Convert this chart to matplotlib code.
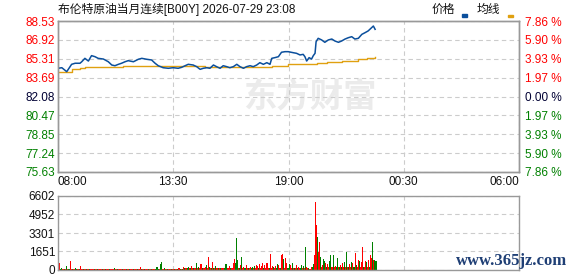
import matplotlib.pyplot as plt
from matplotlib.patches import Rectangle

plt.rcParams['font.family'] = ['Liberation Sans', 'Noto Sans CJK SC', 'DejaVu Sans']

title = "布伦特原油当月连续[B00Y] 2026-07-29 23:08"
x_ticks = ["08:00", "13:30", "19:00", "00:30", "06:00"]
price_ticks = [88.53, 86.92, 85.31, 83.69, 82.08, 80.47, 78.85, 77.24, 75.63]
pct_ticks = ["7.86", "5.90", "3.93", "1.97", "0.00", "1.97", "3.93", "5.90", "7.86"]
vol_ticks = [6602, 4952, 3301, 1651, 0]

price_times = ["08:00", "08:11", "08:25", "08:39", "08:49", "09:03", "09:08", "09:17", "09:27", "09:36",
               "09:46", "09:55", "10:10", "10:24", "10:34", "10:43", "10:53", "11:02", "11:12", "11:21",
               "11:36", "11:50", "12:00", "12:14", "12:28", "12:38", "12:47", "13:01", "13:16", "13:30",
               "13:44", "13:54", "14:04", "14:13", "14:27", "14:37", "14:47", "14:56", "15:06", "15:15",
               "15:25", "15:34", "15:44", "15:53", "16:03", "16:12", "16:22", "16:32", "16:41", "16:51",
               "17:00", "17:10", "17:19", "17:29", "17:38", "17:48", "17:58", "18:07", "18:12", "18:21",
               "18:31", "18:40", "18:50", "18:59", "19:14", "19:23", "19:33", "19:42", "19:47", "19:52",
               "19:59", "20:06", "20:11", "20:16", "20:19", "20:25", "20:35", "20:44", "20:54", "21:04",
               "21:13", "21:23", "21:32", "21:42", "21:51", "22:01", "22:10", "22:20", "22:30", "22:39",
               "22:48", "22:58", "23:03", "23:08"]
price = [84.49, 84.54, 84.20, 84.83, 84.92, 84.92, 85.05, 85.34, 85.11, 85.57,
         85.48, 85.34, 85.28, 85.05, 84.77, 84.71, 84.83, 84.92, 85.05, 85.14,
         85.05, 85.26, 85.34, 85.26, 85.20, 84.92, 84.71, 84.54, 84.49, 84.54,
         84.49, 84.57, 84.71, 84.83, 84.77, 84.63, 84.40, 84.49, 84.54, 84.49,
         84.77, 84.63, 84.49, 84.71, 84.63, 84.54, 84.63, 84.83, 84.63, 84.49,
         84.63, 84.71, 84.63, 84.77, 84.97, 84.83, 84.97, 84.83, 85.34, 85.40,
         85.48, 85.86, 85.91, 85.91, 85.82, 85.77, 85.63, 85.68, 85.48, 85.11,
         85.40, 85.28, 85.57, 85.77, 86.76, 87.05, 86.91, 86.71, 86.91, 86.99,
         86.82, 86.71, 86.82, 86.99, 87.10, 87.19, 86.99, 87.05, 87.39, 87.53,
         87.68, 87.96, 88.10, 87.82]

avg_times = ["08:00", "08:39", "09:03", "09:17", "09:36", "11:06", "15:01", "18:12",
             "18:59", "20:21", "20:49", "21:32", "22:20", "22:44", "23:08"]
avg = [84.20, 84.43, 84.49, 84.57, 84.63, 84.71, 84.63, 84.71,
       84.83, 84.97, 85.05, 85.14, 85.26, 85.34, 85.43]

# volume in 3-minute buckets from 08:00, one row per hour
vol_step = 3
vol = [
    90, 600, 90, 200, 90, 90, 90, 90, 360, 90, 90, 800, 90, 90, 90, 90, 200, 90, 90, 90,
    90, 360, 90, 90, 90, 90, 90, 90, 90, 90, 90, 90, 90, 90, 90, 90, 90, 90, 90, 90,
    90, 90, 90, 90, 90, 90, 90, 90, 90, 90, 90, 90, 90, 200, 90, 90, 90, 90, 90, 90,
    90, 90, 90, 90, 90, 90, 90, 90, 90, 90, 90, 90, 90, 90, 90, 90, 90, 90, 270, 90,
    90, 90, 90, 90, 90, 90, 90, 90, 90, 90, 90, 90, 90, 90, 270, 90, 90, 540, 710, 90,
    90, 200, 90, 90, 90, 90, 90, 90, 90, 90, 90, 90, 90, 90, 90, 200, 90, 90, 90, 300,
    200, 150, 150, 150, 300, 150, 150, 360, 150, 200, 150, 150, 600, 150, 300, 150, 500, 150, 150, 150,
    300, 450, 150, 1130, 300, 150, 150, 680, 200, 150, 390, 150, 150, 200, 150, 150, 200, 150, 150, 500,
    540, 150, 150, 360, 150, 200, 150, 600, 950, 600, 2825, 890, 150, 150, 450, 1160, 150, 300, 150, 450,
    150, 200, 150, 240, 150, 300, 150, 390, 150, 450, 390, 150, 500, 150, 390, 600, 150, 450, 150, 600,
    200, 150, 1400, 150, 390, 300, 150, 390, 150, 500, 450, 200, 150, 1340, 1400, 950, 150, 1040, 600, 150,
    500, 450, 150, 650, 200, 150, 200, 450, 150, 300, 150, 200, 450, 150, 390, 150, 2080, 240, 150, 150,
    120, 250, 250, 535, 1340, 6090, 4015, 2970, 1635, 2525, 1190, 300, 445, 980, 830, 650, 300, 535, 300, 830,
    1340, 300, 1340, 300, 357, 300, 1040, 240, 300, 445, 300, 650, 300, 740, 300, 1635, 300, 300, 535, 300,
    740, 595, 300, 1485, 445, 300, 890, 830, 300, 740, 2020, 300, 300, 830, 740, 300, 890, 300, 1340, 1040,
    2525, 890, 890, 830,
]
vol_dir = ("rrggrrgrgrgrrgrrggrr" "grrrgrrgrrgrrrgrrgrr" "rrgrrgrrrgrrrgrrgrrr"
           "rgrrrgrrgrrrgrrgrrrg" "rrgrrrgrrgrrrgggrggr" "rgrrgrrrgrrgrrgrgrgr"
           "grrggrgrrgrrgrgrrgrr" "rgrrgrgrgrgrrgrgrrgg" "grrrgrrrrgggrgrgrrgr"
           "rgrrggrgrrrgrrrrgrrr" "rgrrrgrrggrrgrrgrrrg" "grrgrgrrgrrggrgrgrrg"
           "rrggrrrgrrgrrggrgrrg" "grgrrggrgrgrrgrgrgrr" "grgrgrrgrrrgrrgrrgrr"
           "grgg")


def mins(s):
    h, m = map(int, s.split(':'))
    return ((h - 8) % 24) * 60 + m


W, H = 578, 276
RED, GREEN, DARK = '#ff0000', '#008000', '#000033'
FRAME = '#999999'
grid_kw = dict(color='#cccccc', linestyle=(0, (4, 3)), linewidth=0.8)
fs = 8.5

fig = plt.figure(figsize=(W / 100, H / 100), dpi=100)

# price panel
ax = fig.add_axes([58 / W, 1 - 172 / H, 461 / W, 151 / H])
ax.set_xlim(0, 1320)
ax.set_ylim(min(price_ticks), max(price_ticks))
ax.text(0.547, 0.49, "东方财富", transform=ax.transAxes, ha='center', va='center',
        fontsize=24, fontweight='bold', color='#ebebeb', family=['Noto Sans CJK SC'], zorder=0)
ax.plot([mins(t) for t in price_times], price, color='#0b4f9c', lw=1.1, zorder=3)
ax.plot([mins(t) for t in avg_times], avg, color='#e0a010', lw=1.0, drawstyle='steps-post', zorder=2)

ax.set_xticks([0, 330, 660, 990, 1320])
ax.set_xticklabels(x_ticks, fontsize=fs, color='#111111')
ax.get_xticklabels()[0].set_ha('left')
ax.get_xticklabels()[-1].set_ha('right')
ax.set_yticks(price_ticks)
ax.set_yticklabels([f"{p:.2f}" for p in price_ticks], fontsize=fs)
for i, lab in enumerate(ax.get_yticklabels()):
    lab.set_color(RED if i < 4 else (DARK if i == 4 else GREEN))
ax.tick_params(length=0, pad=2)
ax.tick_params(axis='x', pad=3)
ax.grid(True, **grid_kw)

ax2 = ax.twinx()
ax2.set_ylim(ax.get_ylim())
ax2.set_yticks(price_ticks)
ax2.set_yticklabels([p + " %" for p in pct_ticks], fontsize=fs)
for i, lab in enumerate(ax2.get_yticklabels()):
    lab.set_color(RED if i < 4 else (DARK if i == 4 else GREEN))
ax2.tick_params(length=0, pad=4)
for a in (ax, ax2):
    for sp in a.spines.values():
        sp.set_color(FRAME)
        sp.set_linewidth(1)

# volume panel
vax = fig.add_axes([58 / W, 1 - 270 / H, 461 / W, 74 / H])
vax.set_xlim(0, 1320)
vax.set_ylim(0, max(vol_ticks))
vt = [i * vol_step + vol_step / 2 for i in range(len(vol))]
vcol = [RED if c == 'r' else GREEN for c in vol_dir]
vax.bar(vt, vol, width=vol_step, color=vcol, linewidth=0, antialiased=False, zorder=2)
vax.set_xticks([0, 330, 660, 990, 1320])
vax.set_xticklabels([])
vax.set_yticks(vol_ticks)
vax.set_yticklabels([str(v) for v in vol_ticks], fontsize=fs, color='#111111')
vax.tick_params(length=0, pad=2)
vax.grid(True, **grid_kw)
for sp in vax.spines.values():
    sp.set_color(FRAME)
    sp.set_linewidth(1)

# title and legend
fig.text(58 / W, 1 - 9.5 / H, title, ha='left', va='center', fontsize=fs, color='#111111')
fig.text(432 / W, 1 - 9.5 / H, "价格", ha='left', va='center', fontsize=fs, color='#111111')
fig.text(477 / W, 1 - 9.5 / H, "均线", ha='left', va='center', fontsize=fs, color='#111111')
fig.patches.append(Rectangle((462 / W, 1 - 17 / H), 4.5 / W, 3.5 / H,
                             transform=fig.transFigure, color='#0b4f9c'))
fig.patches.append(Rectangle((508 / W, 1 - 17.3 / H), 5 / W, 2.5 / H,
                             transform=fig.transFigure, color='#e0a010'))

fig.text(512 / W, 1 - 261 / H, "www.365jz.com", ha='center', va='center', fontsize=12,
         fontweight='bold', family=['Liberation Serif'], color='#1f3f75', zorder=5)

fig.savefig("out.png", dpi=100)
